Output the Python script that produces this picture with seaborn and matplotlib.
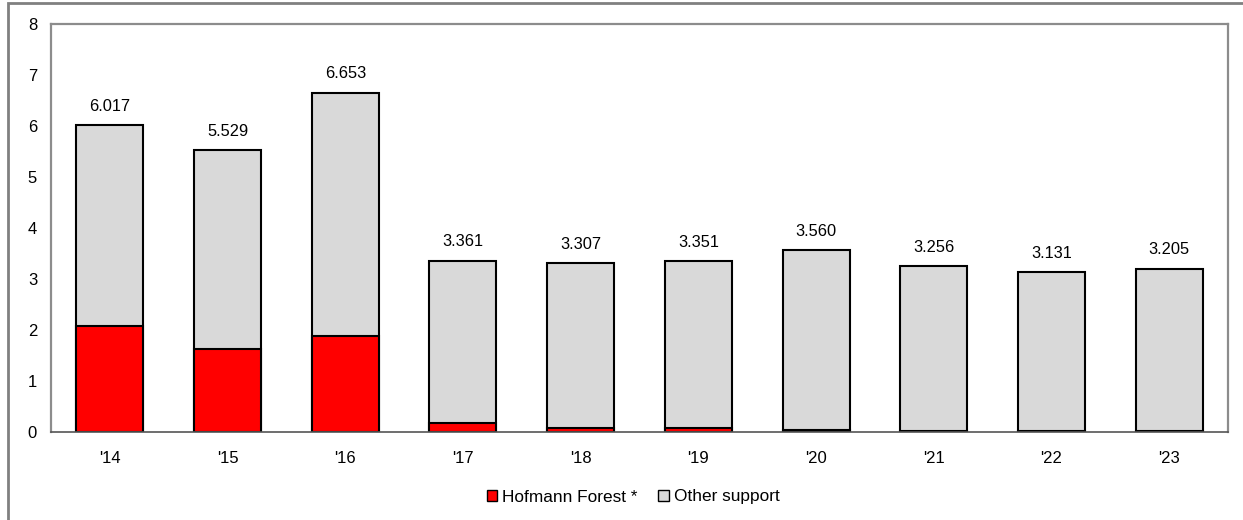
import numpy as np
import pandas as pd
import matplotlib
matplotlib.use('Agg')
import matplotlib.pyplot as plt
import seaborn as sns
from matplotlib.patches import Rectangle, Patch

# datos
anios = ["'14", "'15", "'16", "'17", "'18", "'19", "'20", "'21", "'22", "'23"]
total = [6.017, 5.529, 6.653, 3.361, 3.307, 3.351, 3.560, 3.256, 3.131, 3.205]
hofmann = [2.07, 1.63, 1.88, 0.18, 0.08, 0.08, 0.04, 0.01, 0.01, 0.01]

df = pd.DataFrame({'anio': anios, 'total': total, 'hofmann': hofmann})

sns.set_theme(style='white')
plt.rcParams['font.family'] = ['Liberation Sans', 'DejaVu Sans']
plt.rcParams['text.color'] = 'black'
plt.rcParams['xtick.color'] = 'black'
plt.rcParams['ytick.color'] = 'black'

fig = plt.figure(figsize=(12.43, 5.2), dpi=100)
ax = fig.add_axes([51 / 1243, 1 - 432 / 520, (1228 - 51) / 1243, (432 - 24) / 520])

gris = '#d9d9d9'
rojo = '#ff0000'

sns.barplot(data=df, x='anio', y='total', color=gris, width=0.57,
            edgecolor='black', linewidth=1.5, saturation=1, ax=ax)
sns.barplot(data=df, x='anio', y='hofmann', color=rojo, width=0.57,
            edgecolor='black', linewidth=1.5, saturation=1, ax=ax)

for i, v in enumerate(total):
    ax.text(i, v + 0.22, f'{v:.3f}', ha='center', va='bottom', fontsize=11.8)

ax.set_ylim(0, 8)
ax.set_xlim(-0.5, len(anios) - 0.5)
ax.set_yticks(range(0, 9))
ax.set_xlabel('')
ax.set_ylabel('')
ax.tick_params(axis='both', length=0, labelsize=12)
ax.tick_params(axis='y', pad=10)
ax.tick_params(axis='x', pad=14)
for s in ['left', 'top', 'right']:
    ax.spines[s].set_color('#8c8c8c')
    ax.spines[s].set_linewidth(1.6)
ax.spines['bottom'].set_color('#555555')
ax.spines['bottom'].set_linewidth(1.2)

# leyenda
handles = [Patch(facecolor=rojo, edgecolor='black', linewidth=1),
           Patch(facecolor=gris, edgecolor='black', linewidth=1)]
fig.legend(handles, ['Hofmann Forest *', 'Other support'], loc='center',
           bbox_to_anchor=(633 / 1243, 1 - 497 / 520), ncol=2, frameon=False,
           fontsize=12.4, handlelength=0.6, handleheight=0.6,
           handletextpad=0.3, columnspacing=1.2)

# marco exterior
fig.patches.append(Rectangle((8 / 1243, -0.05), 1.1, 1 - 3 / 520 + 0.05,
                             transform=fig.transFigure, fill=False,
                             edgecolor='#808080', linewidth=2))

plt.savefig('out.png', dpi=100)
